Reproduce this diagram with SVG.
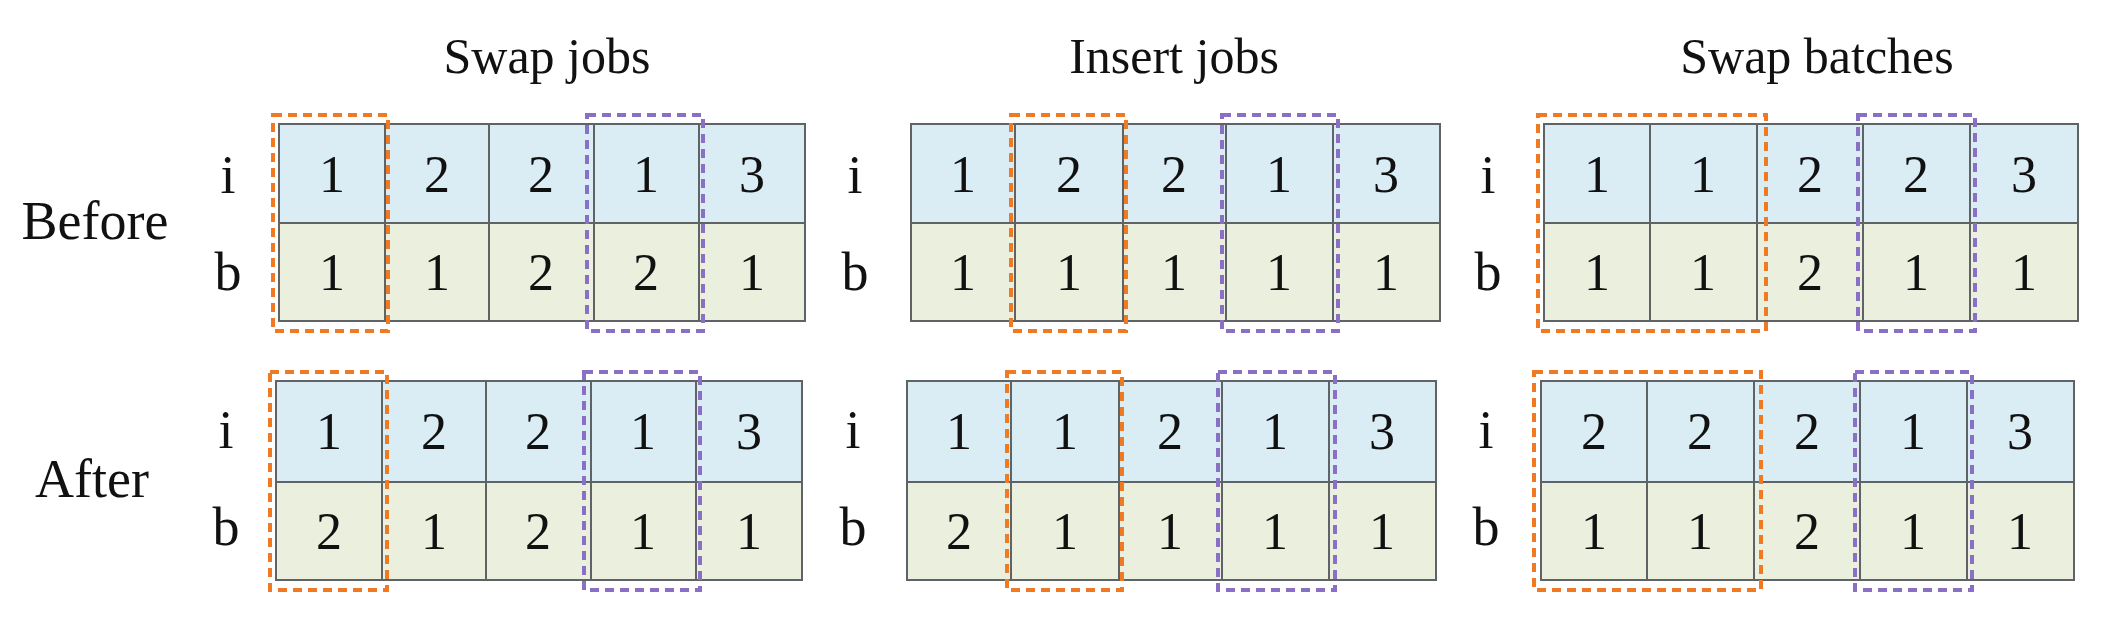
<svg xmlns="http://www.w3.org/2000/svg" width="2115" height="633" viewBox="0 0 2115 633">
<style>
text{font-family:"Liberation Serif","Times New Roman",serif;fill:#111;text-anchor:middle}
.t{font-size:50px}
.l{font-size:54px}
.d{font-size:52px}
.bl{fill:#daedf4;stroke:#5f6366;stroke-width:2}
.gr{fill:#ebf0de;stroke:#5f6366;stroke-width:2}
.o{fill:none;stroke:#f07a24;stroke-width:4;stroke-dasharray:9 6}
.p{fill:none;stroke:#8a70c4;stroke-width:4;stroke-dasharray:9 6}
</style>
<rect width="2115" height="633" fill="#fff"/>
<text class="t" x="547" y="73">Swap jobs</text>
<text class="t" x="1174" y="73">Insert jobs</text>
<text class="t" x="1817" y="73">Swap batches</text>
<text class="l" x="95" y="239">Before</text>
<text class="l" x="92" y="497">After</text>
<g id="labels">
<text class="l" x="228" y="193">i</text><text class="l" x="228" y="290">b</text>
<text class="l" x="226" y="448">i</text><text class="l" x="226" y="545">b</text>
<text class="l" x="855" y="193">i</text><text class="l" x="855" y="290">b</text>
<text class="l" x="853" y="448">i</text><text class="l" x="853" y="545">b</text>
<text class="l" x="1488" y="193">i</text><text class="l" x="1488" y="290">b</text>
<text class="l" x="1486" y="448">i</text><text class="l" x="1486" y="545">b</text>
</g>
<!-- Panel 1 before -->
<g id="p1-before">
<rect class="bl" x="279" y="124" width="106" height="99"/><rect class="bl" x="385" y="124" width="104" height="99"/><rect class="bl" x="489" y="124" width="105" height="99"/><rect class="bl" x="594" y="124" width="105" height="99"/><rect class="bl" x="699" y="124" width="106" height="99"/>
<rect class="gr" x="279" y="223" width="106" height="98"/><rect class="gr" x="385" y="223" width="104" height="98"/><rect class="gr" x="489" y="223" width="105" height="98"/><rect class="gr" x="594" y="223" width="105" height="98"/><rect class="gr" x="699" y="223" width="106" height="98"/>
<text class="d" x="332" y="192">1</text><text class="d" x="437" y="192">2</text><text class="d" x="541" y="192">2</text><text class="d" x="646" y="192">1</text><text class="d" x="752" y="192">3</text>
<text class="d" x="332" y="290">1</text><text class="d" x="437" y="290">1</text><text class="d" x="541" y="290">2</text><text class="d" x="646" y="290">2</text><text class="d" x="752" y="290">1</text>
<rect class="o" x="273" y="115" width="115" height="216"/><rect class="p" x="587" y="115" width="116" height="216"/>
</g>
<g id="p1-after">
<rect class="bl" x="276" y="381" width="106" height="101"/><rect class="bl" x="382" y="381" width="104" height="101"/><rect class="bl" x="486" y="381" width="105" height="101"/><rect class="bl" x="591" y="381" width="105" height="101"/><rect class="bl" x="696" y="381" width="106" height="101"/>
<rect class="gr" x="276" y="482" width="106" height="98"/><rect class="gr" x="382" y="482" width="104" height="98"/><rect class="gr" x="486" y="482" width="105" height="98"/><rect class="gr" x="591" y="482" width="105" height="98"/><rect class="gr" x="696" y="482" width="106" height="98"/>
<text class="d" x="329" y="449">1</text><text class="d" x="434" y="449">2</text><text class="d" x="538" y="449">2</text><text class="d" x="643" y="449">1</text><text class="d" x="749" y="449">3</text>
<text class="d" x="329" y="549">2</text><text class="d" x="434" y="549">1</text><text class="d" x="538" y="549">2</text><text class="d" x="643" y="549">1</text><text class="d" x="749" y="549">1</text>
<rect class="o" x="270" y="372" width="117" height="218"/><rect class="p" x="584" y="372" width="116" height="218"/>
</g>
<g id="p2-before">
<rect class="bl" x="911" y="124" width="104" height="99"/><rect class="bl" x="1015" y="124" width="108" height="99"/><rect class="bl" x="1123" y="124" width="103" height="99"/><rect class="bl" x="1226" y="124" width="107" height="99"/><rect class="bl" x="1333" y="124" width="107" height="99"/>
<rect class="gr" x="911" y="223" width="104" height="98"/><rect class="gr" x="1015" y="223" width="108" height="98"/><rect class="gr" x="1123" y="223" width="103" height="98"/><rect class="gr" x="1226" y="223" width="107" height="98"/><rect class="gr" x="1333" y="223" width="107" height="98"/>
<text class="d" x="963" y="192">1</text><text class="d" x="1069" y="192">2</text><text class="d" x="1174" y="192">2</text><text class="d" x="1279" y="192">1</text><text class="d" x="1386" y="192">3</text>
<text class="d" x="963" y="290">1</text><text class="d" x="1069" y="290">1</text><text class="d" x="1174" y="290">1</text><text class="d" x="1279" y="290">1</text><text class="d" x="1386" y="290">1</text>
<rect class="o" x="1011" y="115" width="115" height="216"/><rect class="p" x="1222" y="115" width="116" height="216"/>
</g>
<g id="p2-after">
<rect class="bl" x="907" y="381" width="104" height="101"/><rect class="bl" x="1011" y="381" width="108" height="101"/><rect class="bl" x="1119" y="381" width="103" height="101"/><rect class="bl" x="1222" y="381" width="107" height="101"/><rect class="bl" x="1329" y="381" width="107" height="101"/>
<rect class="gr" x="907" y="482" width="104" height="98"/><rect class="gr" x="1011" y="482" width="108" height="98"/><rect class="gr" x="1119" y="482" width="103" height="98"/><rect class="gr" x="1222" y="482" width="107" height="98"/><rect class="gr" x="1329" y="482" width="107" height="98"/>
<text class="d" x="959" y="449">1</text><text class="d" x="1065" y="449">1</text><text class="d" x="1170" y="449">2</text><text class="d" x="1275" y="449">1</text><text class="d" x="1382" y="449">3</text>
<text class="d" x="959" y="549">2</text><text class="d" x="1065" y="549">1</text><text class="d" x="1170" y="549">1</text><text class="d" x="1275" y="549">1</text><text class="d" x="1382" y="549">1</text>
<rect class="o" x="1007" y="372" width="115" height="218"/><rect class="p" x="1218" y="372" width="117" height="218"/>
</g>
<g id="p3-before">
<rect class="bl" x="1544" y="124" width="106" height="99"/><rect class="bl" x="1650" y="124" width="107" height="99"/><rect class="bl" x="1757" y="124" width="106" height="99"/><rect class="bl" x="1863" y="124" width="107" height="99"/><rect class="bl" x="1970" y="124" width="108" height="99"/>
<rect class="gr" x="1544" y="223" width="106" height="98"/><rect class="gr" x="1650" y="223" width="107" height="98"/><rect class="gr" x="1757" y="223" width="106" height="98"/><rect class="gr" x="1863" y="223" width="107" height="98"/><rect class="gr" x="1970" y="223" width="108" height="98"/>
<text class="d" x="1597" y="192">1</text><text class="d" x="1703" y="192">1</text><text class="d" x="1810" y="192">2</text><text class="d" x="1916" y="192">2</text><text class="d" x="2024" y="192">3</text>
<text class="d" x="1597" y="290">1</text><text class="d" x="1703" y="290">1</text><text class="d" x="1810" y="290">2</text><text class="d" x="1916" y="290">1</text><text class="d" x="2024" y="290">1</text>
<rect class="o" x="1538" y="115" width="228" height="216"/><rect class="p" x="1858" y="115" width="117" height="216"/>
</g>
<g id="p3-after">
<rect class="bl" x="1541" y="381" width="106" height="101"/><rect class="bl" x="1647" y="381" width="107" height="101"/><rect class="bl" x="1754" y="381" width="106" height="101"/><rect class="bl" x="1860" y="381" width="107" height="101"/><rect class="bl" x="1967" y="381" width="107" height="101"/>
<rect class="gr" x="1541" y="482" width="106" height="98"/><rect class="gr" x="1647" y="482" width="107" height="98"/><rect class="gr" x="1754" y="482" width="106" height="98"/><rect class="gr" x="1860" y="482" width="107" height="98"/><rect class="gr" x="1967" y="482" width="107" height="98"/>
<text class="d" x="1594" y="449">2</text><text class="d" x="1700" y="449">2</text><text class="d" x="1807" y="449">2</text><text class="d" x="1913" y="449">1</text><text class="d" x="2020" y="449">3</text>
<text class="d" x="1594" y="549">1</text><text class="d" x="1700" y="549">1</text><text class="d" x="1807" y="549">2</text><text class="d" x="1913" y="549">1</text><text class="d" x="2020" y="549">1</text>
<rect class="o" x="1534" y="372" width="227" height="218"/><rect class="p" x="1855" y="372" width="117" height="218"/>
</g>
<g id="connectors"/>
</svg>
